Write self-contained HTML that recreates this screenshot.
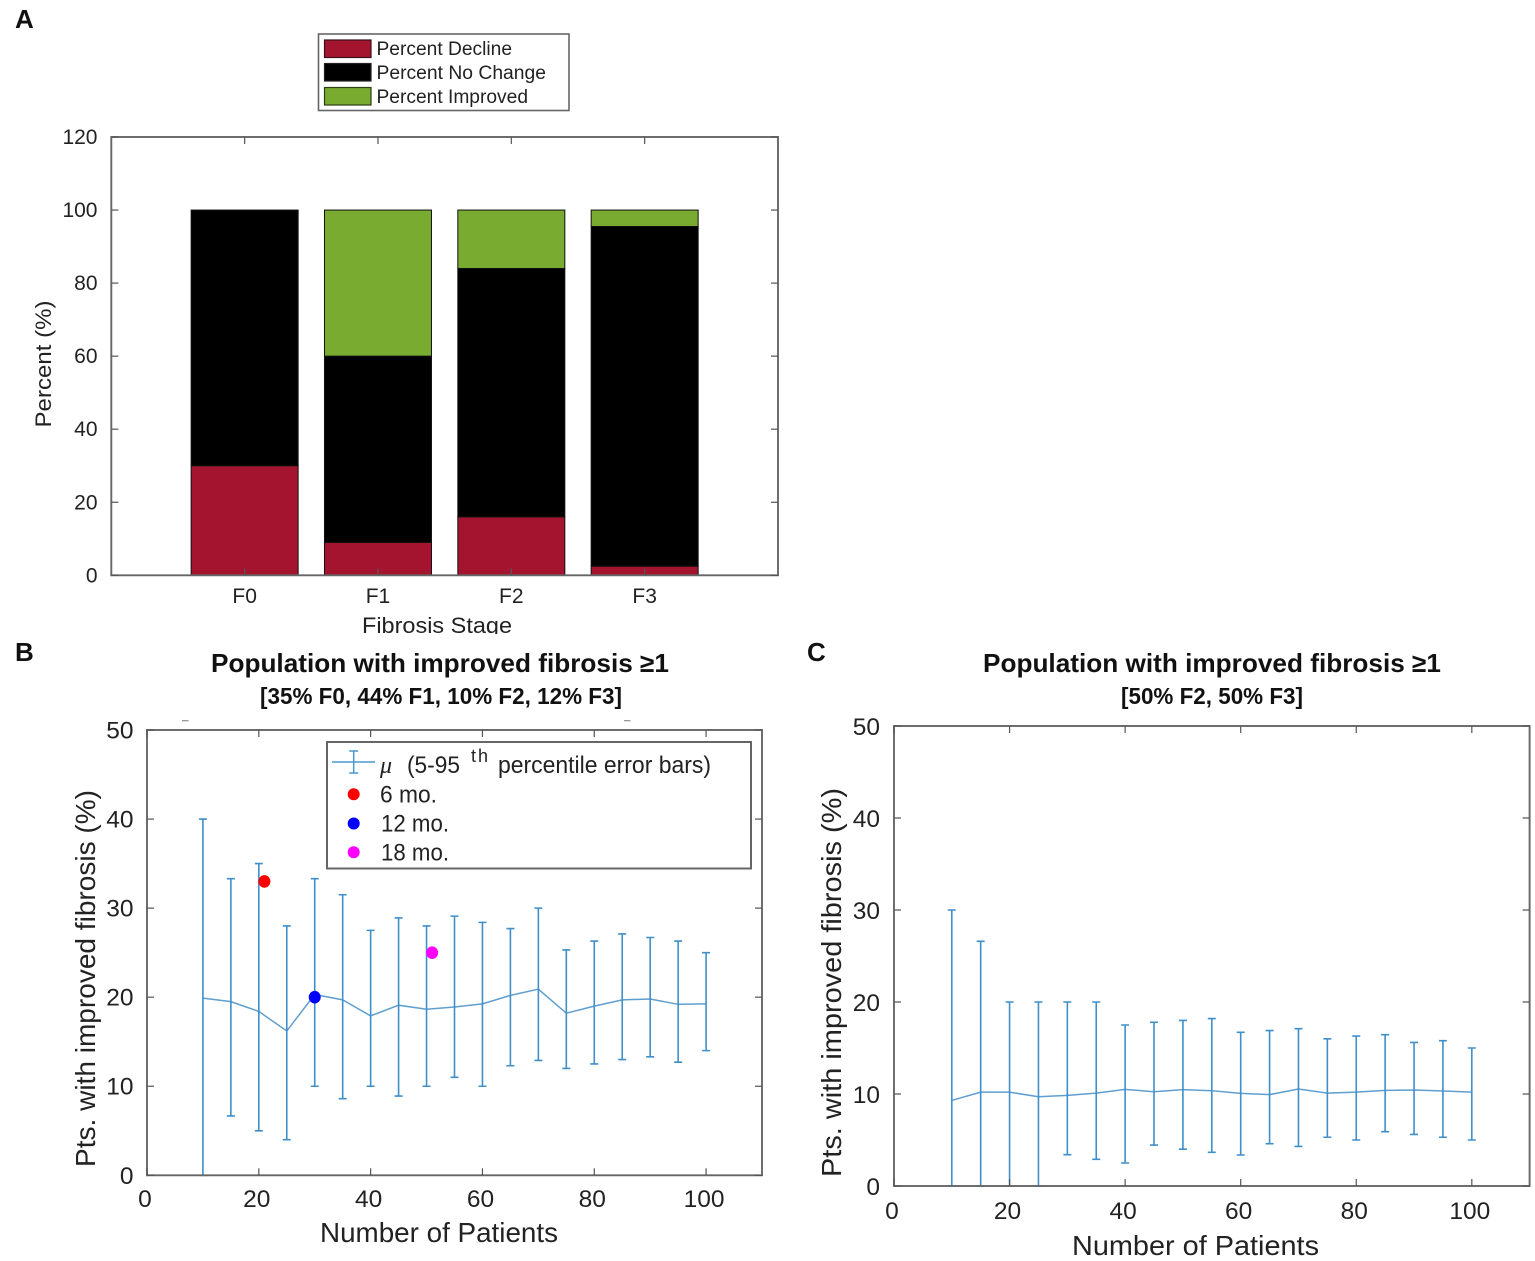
<!DOCTYPE html>
<html lang="en">
<head>
<meta charset="utf-8">
<title>Fibrosis improvement charts</title>
<style>
html,body{margin:0;padding:0;background:#fff;}
svg{display:block;font-family:"Liberation Sans",Arial,sans-serif;}
text{fill:#222;}
.t{font-weight:bold;fill:#111;}
</style>
</head>
<body>
<svg id="fig" width="1535" height="1261" viewBox="0 0 1535 1261" xmlns="http://www.w3.org/2000/svg">
  <defs>
    <clipPath id="clip-a-label"><rect x="300" y="600" width="300" height="34"/></clipPath>
  </defs>

  <text class="t" x="15" y="28" font-size="26">A</text>
  <text class="t" x="15" y="661" font-size="26">B</text>
  <text class="t" x="807" y="661" font-size="26">C</text>

  <g id="panel-a"></g>
  <g id="panel-b"></g>
  <g id="panel-c"></g>

  <text transform="translate(51,364) rotate(-90)" text-anchor="middle" font-size="22" textLength="127" lengthAdjust="spacingAndGlyphs">Percent (%)</text>
  <g clip-path="url(#clip-a-label)">
    <text x="362" y="633" font-size="22" textLength="150" lengthAdjust="spacingAndGlyphs">Fibrosis Stage</text>
  </g>

  <g>
    <rect x="318.5" y="34" width="250.5" height="76.5" fill="#fff" stroke="#666" stroke-width="1.6"/>
    <rect x="324.5" y="40" width="46.5" height="17.5" fill="#a5142f" stroke="#3a1018" stroke-width="1.2"/>
    <rect x="324.5" y="63.5" width="46.5" height="17.5" fill="#000" stroke="#222" stroke-width="1.2"/>
    <rect x="324.5" y="87.5" width="46.5" height="17.5" fill="#78ab30" stroke="#2c4014" stroke-width="1.2"/>
    <text x="376.5" y="55" font-size="19" textLength="135.5" lengthAdjust="spacingAndGlyphs">Percent Decline</text>
    <text x="376.5" y="79" font-size="19" textLength="169.5" lengthAdjust="spacingAndGlyphs">Percent No Change</text>
    <text x="376.5" y="103" font-size="19" textLength="151.5" lengthAdjust="spacingAndGlyphs">Percent Improved</text>
  </g>

  <text class="t" x="211" y="672" font-size="26" textLength="458" lengthAdjust="spacingAndGlyphs">Population with improved fibrosis ≥1</text>
  <text class="t" x="260" y="704" font-size="23" textLength="362" lengthAdjust="spacingAndGlyphs">[35% F0, 44% F1, 10% F2, 12% F3]</text>
  <rect x="182" y="720" width="6.5" height="1.3" fill="#999"/>
  <rect x="624" y="720" width="6.5" height="1.3" fill="#999"/>
  <text transform="translate(95,978.5) rotate(-90)" text-anchor="middle" font-size="28" textLength="377" lengthAdjust="spacingAndGlyphs">Pts. with improved fibrosis (%)</text>
  <text x="320" y="1242" font-size="28" textLength="238" lengthAdjust="spacingAndGlyphs">Number of Patients</text>

  <g>
    <rect x="327" y="742" width="424" height="126.5" fill="#fff" stroke="#666" stroke-width="2"/>
    <g stroke="#4a98cf" stroke-width="1.5" fill="none">
      <path d="M332 762H375M353.7 751V773M349.2 751H358.2M349.2 773H358.2"/>
    </g>
    <text x="380" y="773" font-size="24" font-style="italic" font-family="'Liberation Serif',serif">μ</text>
    <text x="407" y="773" font-size="24" textLength="53" lengthAdjust="spacingAndGlyphs">(5-95</text>
    <text x="471" y="762" font-size="18" textLength="17" lengthAdjust="spacing">th</text>
    <text x="498" y="773" font-size="24" textLength="213" lengthAdjust="spacingAndGlyphs">percentile error bars)</text>
    <circle cx="353.7" cy="794.3" r="6" fill="#ff0000"/>
    <circle cx="353.7" cy="823.5" r="6" fill="#0000ff"/>
    <circle cx="353.7" cy="852.3" r="6" fill="#ff00ff"/>
    <text x="380" y="802.5" font-size="24" textLength="57" lengthAdjust="spacingAndGlyphs">6 mo.</text>
    <text x="381" y="831.5" font-size="24" textLength="68" lengthAdjust="spacingAndGlyphs">12 mo.</text>
    <text x="381" y="860.5" font-size="24" textLength="68" lengthAdjust="spacingAndGlyphs">18 mo.</text>
  </g>

  <text class="t" x="983" y="672" font-size="26" textLength="458" lengthAdjust="spacingAndGlyphs">Population with improved fibrosis ≥1</text>
  <text class="t" x="1121" y="704" font-size="23" textLength="182" lengthAdjust="spacingAndGlyphs">[50% F2, 50% F3]</text>
  <text transform="translate(841,982.5) rotate(-90)" text-anchor="middle" font-size="28" textLength="389" lengthAdjust="spacingAndGlyphs">Pts. with improved fibrosis (%)</text>
  <text x="1072" y="1255" font-size="28" textLength="247" lengthAdjust="spacingAndGlyphs">Number of Patients</text>
</svg>

<script>
// Panel A data
const stageCategories = ['F0', 'F1', 'F2', 'F3'];
const percentDecline = [30, 9, 16, 2.5];
const percentNoChange = [70, 51, 68, 93];
const percentImproved = [0, 40, 16, 4.5];
const percentTicks = [0, 20, 40, 60, 80, 100, 120];

// Panel B data
const patientsB = [10, 15, 20, 25, 30, 35, 40, 45, 50, 55, 60, 65, 70, 75, 80, 85, 90, 95, 100];
const meanB = [19.9, 19.5, 18.4, 16.2, 20.3, 19.7, 17.9, 19.1, 18.65, 18.9, 19.25, 20.2, 20.9, 18.2, 19, 19.7, 19.8, 19.2, 19.25];
const upperB = [40, 33.3, 35, 28, 33.3, 31.5, 27.5, 28.9, 28, 29.1, 28.4, 27.7, 30, 25.3, 26.3, 27.1, 26.7, 26.3, 25];
const lowerB = [0, 6.67, 5, 4, 10, 8.6, 10, 8.9, 10, 11, 10, 12.3, 12.9, 12, 12.5, 13, 13.3, 12.7, 14];
const studyLabels = ['6 mo.', '12 mo.', '18 mo.'];
const studyPatients = [21, 30, 51];
const studyValues = [33, 20, 25];

// Panel C data
const patientsC = [10, 15, 20, 25, 30, 35, 40, 45, 50, 55, 60, 65, 70, 75, 80, 85, 90, 95, 100];
const meanC = [9.3, 10.2, 10.2, 9.7, 9.85, 10.1, 10.5, 10.25, 10.47, 10.36, 10.07, 9.93, 10.54, 10.1, 10.2, 10.4, 10.43, 10.33, 10.2];
const upperC = [30, 26.6, 20, 20, 20, 20, 17.5, 17.8, 18, 18.2, 16.7, 16.9, 17.1, 16, 16.3, 16.45, 15.6, 15.8, 15];
const lowerC = [0, 0, 0, 0, 3.4, 2.9, 2.5, 4.45, 4, 3.66, 3.37, 4.6, 4.3, 5.3, 5, 5.9, 5.6, 5.3, 5];

// Shared tick labels for B and C
const patientTicks = [0, 20, 40, 60, 80, 100];
const fibrosisTicks = [0, 10, 20, 30, 40, 50];

const NS = 'http://www.w3.org/2000/svg';
const AXIS = '#666';
const TICK = '#555';
const BLUE = '#3f8fc9';
const BLUE_LINE = '#5f9fd0';
const studyColors = ['#ff0000', '#0000ff', '#ff00ff'];

function mk(parent, tag, attrs, content) {
  const el = document.createElementNS(NS, tag);
  for (const k in attrs) el.setAttribute(k, attrs[k]);
  if (content !== undefined) el.textContent = content;
  parent.appendChild(el);
  return el;
}

function drawFrame(g, box) {
  const frame = mk(g, 'rect', { x: box.left, y: box.top, width: box.right - box.left, height: box.bottom - box.top, fill: 'none', stroke: AXIS, 'stroke-width': 1.9 });
  
  
}

function drawTick(g, x1, y1, x2, y2) {
  const tick = mk(g, 'line', { x1: x1, y1: y1, x2: x2, y2: y2, stroke: TICK, 'stroke-width': 1.2 });
  
  
}

/* ---------- Panel A ---------- */
(function () {
  const g = document.getElementById('panel-a');
  const box = { left: 111.3, right: 778, top: 137, bottom: 575.3 };
  const xA = function (i) { return box.left + (i + 1) * (box.right - box.left) / 5; };
  const yA = function (v) { return box.bottom - v * (box.bottom - box.top) / 120; };
  const barW = 107;
  const segments = [
    { values: percentDecline, color: '#a5142f', name: 'bar-decline' },
    { values: percentNoChange, color: '#000000', name: 'bar-no-change' },
    { values: percentImproved, color: '#78ab30', name: 'bar-improved' }
  ];
  stageCategories.forEach(function (cat, i) {
    let base = 0;
    segments.forEach(function (seg) {
      const v = seg.values[i];
      const bar = mk(g, 'rect', { x: xA(i) - barW / 2, y: yA(base + v), width: barW, height: yA(base) - yA(base + v), fill: seg.color, stroke: '#111', 'stroke-width': 1 });
      
      
      base += v;
    });
  });
  drawFrame(g, box);
  stageCategories.forEach(function (cat, i) {
    drawTick(g, xA(i), box.bottom, xA(i), box.bottom - 7);
    drawTick(g, xA(i), box.top, xA(i), box.top + 7);
    const label = mk(g, 'text', { x: xA(i), y: 603, 'text-anchor': 'middle', 'font-size': 21 }, cat);
    
    
  });
  percentTicks.forEach(function (v) {
    drawTick(g, box.left, yA(v), box.left + 7, yA(v));
    drawTick(g, box.right, yA(v), box.right - 7, yA(v));
    const label = mk(g, 'text', { x: 97.5, y: yA(v) + 7, 'text-anchor': 'end', 'font-size': 21 }, String(v));
    
    
  });
})();

/* ---------- Panels B and C ---------- */
function drawErrorPanel(g, box, xMax, yMax, xs, means, uppers, lowers, opts) {
  const xS = function (v) { return box.left + v * (box.right - box.left) / xMax; };
  const yS = function (v) { return box.bottom - v * (box.bottom - box.top) / yMax; };
  const meanPoints = xs.map(function (x, i) { return xS(x) + ',' + yS(means[i]); }).join(' ');
  const meanLine = mk(g, 'polyline', { points: meanPoints, fill: 'none', stroke: BLUE_LINE, 'stroke-width': 1.5 });
  
  
  xs.forEach(function (x, i) {
    const px = xS(x), top = yS(uppers[i]), bot = yS(lowers[i]);
    const d = 'M' + px + ' ' + top + 'V' + bot + 'M' + (px - 4) + ' ' + top + 'H' + (px + 4) + 'M' + (px - 4) + ' ' + bot + 'H' + (px + 4);
    const bar = mk(g, 'path', { d: d, fill: 'none', stroke: BLUE, 'stroke-width': 1.6 });
    
    
  });
  drawFrame(g, box);
  patientTicks.forEach(function (v) {
    drawTick(g, xS(v), box.bottom, xS(v), box.bottom - 7);
    drawTick(g, xS(v), box.top, xS(v), box.top + 7);
    const label = mk(g, 'text', { x: xS(v) - 2, y: opts.xLabelY, 'text-anchor': 'middle', 'font-size': 24.5 }, String(v));
    
    
  });
  fibrosisTicks.forEach(function (v) {
    drawTick(g, box.left, yS(v), box.left + 7, yS(v));
    drawTick(g, box.right, yS(v), box.right - 7, yS(v));
    const label = mk(g, 'text', { x: opts.yLabelX, y: yS(v) + opts.yLabelDy, 'text-anchor': 'end', 'font-size': 24.5 }, String(v));
    
    
  });
  return { xS: xS, yS: yS };
}

const scalesB = drawErrorPanel(
  document.getElementById('panel-b'),
  { left: 147, right: 762, top: 730, bottom: 1175.3 },
  110, 50, patientsB, meanB, upperB, lowerB,
  { xLabelY: 1207, yLabelX: 133.5, yLabelDy: 8.5 }
);

studyLabels.forEach(function (name, i) {
  const dot = mk(document.getElementById('panel-b'), 'ellipse', { cx: scalesB.xS(studyPatients[i]), cy: scalesB.yS(studyValues[i]), rx: 6, ry: 6.3, fill: studyColors[i] });
  
  
});

drawErrorPanel(
  document.getElementById('panel-c'),
  { left: 894, right: 1529.6, top: 726, bottom: 1186 },
  110, 50, patientsC, meanC, upperC, lowerC,
  { xLabelY: 1219, yLabelX: 880, yLabelDy: 9 }
);
</script>
</body>
</html>
